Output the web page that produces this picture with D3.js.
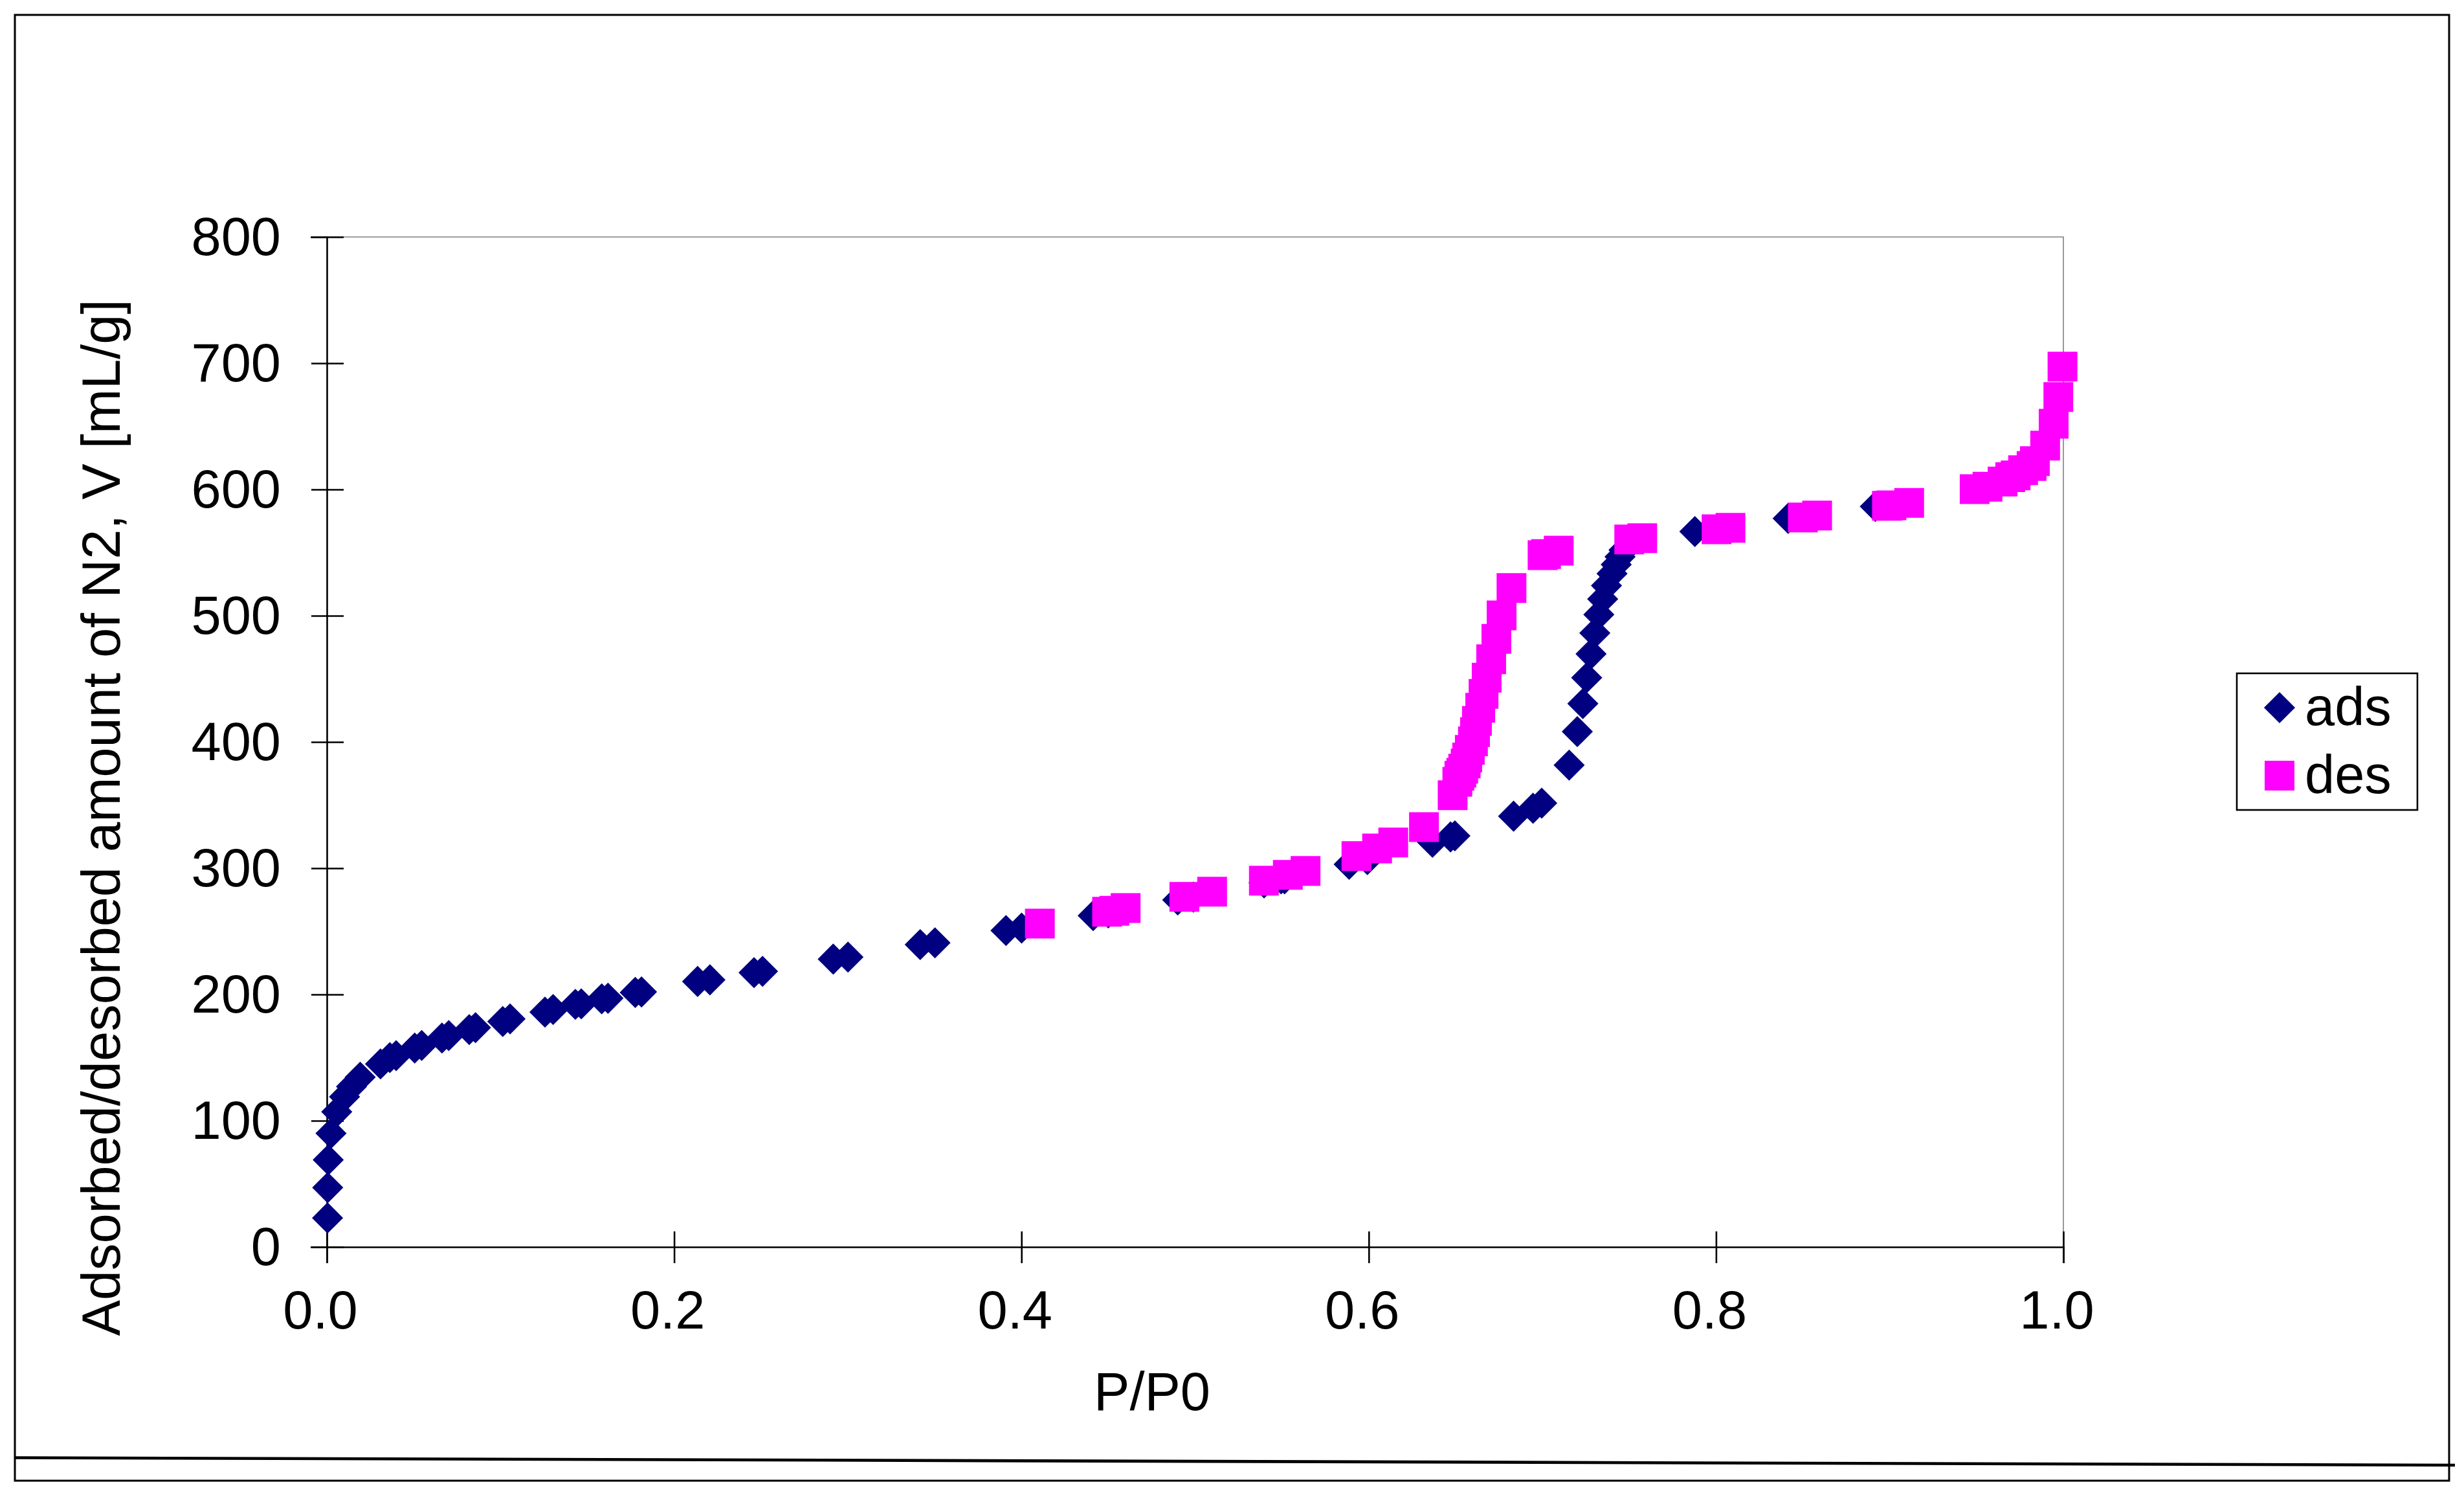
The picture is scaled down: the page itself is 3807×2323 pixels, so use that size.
<!DOCTYPE html>
<html>
<head>
<meta charset="utf-8">
<script src="https://cdn.jsdelivr.net/npm/d3@7"></script>
<style>
  html, body { margin: 0; padding: 0; background: #ffffff; }
  svg { display: block; }
  text { font-family: "Liberation Sans", Arial, sans-serif; fill: #000; }
</style>
</head>
<body>
<script>
// ---- data ----
const adsP = [0.0004,0.0005,0.0008,0.0024,0.0057,0.0102,0.0142,0.0192,0.0309,0.0363,0.0399,0.0506,0.0546,0.0663,0.0702,0.0820,0.0856,0.1013,0.1055,0.1256,0.1303,0.1431,0.1465,0.1583,0.1619,0.1776,0.1812,0.2135,0.2206,0.2460,0.2509,0.2916,0.3001,0.3417,0.3502,0.3911,0.4001,0.4413,0.4500,0.4900,0.4990,0.5397,0.5495,0.5515,0.5887,0.5992,0.6367,0.6471,0.6496,0.6834,0.6946,0.6996,0.7154,0.7201,0.7233,0.7255,0.7280,0.7302,0.7325,0.7347,0.7369,0.7401,0.7425,0.7447,0.7470,0.7878,0.8415,0.8917];
const adsV = [23,47,69,90,107,119,127,134.5,145,150,151.5,157.6,159.6,165.5,167.4,172.2,173.7,178.6,180.6,186.0,188.1,192.2,192.6,196.5,197,201.6,202,210.3,211.6,217.3,218.3,228.0,229.6,239.5,240.9,250.6,252.6,262.4,264.6,274.9,277.1,288.4,291.5,291.6,303.1,306.8,320.5,324.8,325.6,341.2,347.5,351.5,381.7,408.2,430.4,450.9,469.7,486.3,500.9,513.2,523.8,533.3,540.5,546.7,552,566.7,577.1,586.5];

const desP = [0.4106,0.4493,0.4535,0.4600,0.4938,0.5098,0.5396,0.5534,0.5636,0.5929,0.6048,0.6141,0.6318,0.6483,0.6510,0.6522,0.6533,0.6544,0.6558,0.6567,0.6582,0.6600,0.6612,0.6623,0.6642,0.6661,0.6679,0.6705,0.6735,0.6765,0.6822,0.7001,0.7021,0.7094,0.7500,0.7575,0.8003,0.8083,0.8500,0.8582,0.8984,0.9010,0.9112,0.9489,0.9563,0.9650,0.9694,0.9725,0.9768,0.9817,0.9836,0.9895,0.9944,0.9971,0.9995];
const desV = [256.2,265.5,266.3,268.4,277.3,281.4,290.1,294.7,297.8,309.6,315.7,320.4,332.6,357.8,368.4,373.2,375.7,378.8,382.9,387.7,393.7,400.5,407.8,416.7,427,438.1,450.9,465.5,481.7,500.2,521.9,548.0,548.9,551.6,560.4,561.4,568.5,569.6,577.8,579.3,587,587.5,589.4,600.2,602.2,606.3,609.7,611.1,615.2,618.6,622.4,634.7,652,673.2,697.3];

const xTicks = [0, 0.2, 0.4, 0.6, 0.8, 1.0];
const xTickLabels = ["0.0", "0.2", "0.4", "0.6", "0.8", "1.0"];
const yTicks = [0, 100, 200, 300, 400, 500, 600, 700, 800];
const yTickLabels = ["0", "100", "200", "300", "400", "500", "600", "700", "800"];

const seriesNames = ["ads", "des"];
const seriesColors = ["#000080", "#FF00FF"];
const xTitle = "P/P0";
const yTitle = "Adsorbed/desorbed amount of N2, V [mL/g]";

// ---- layout ----
const W = 3807, H = 2323;
const plotL = 505, plotR = 3188, plotT = 366, plotB = 1926;
const FS = 83;

const svg = d3.select("body").append("svg")
  .attr("width", W).attr("height", H)
  .attr("viewBox", `0 0 ${W} ${H}`);

svg.append("rect").attr("width", W).attr("height", H).attr("fill", "#fff");

// outer chart border
svg.append("rect")
  .attr("x", 23).attr("y", 23)
  .attr("width", 3784 - 23).attr("height", 2287 - 23)
  .attr("fill", "none").attr("stroke", "#000").attr("stroke-width", 3);

// stray slanted line near bottom
svg.append("line")
  .attr("x1", 23).attr("y1", 2251.5)
  .attr("x2", 3793).attr("y2", 2263)
  .attr("stroke", "#000").attr("stroke-width", 4.6);

const x = d3.scaleLinear().domain([0, 1]).range([plotL, plotR]);
const y = d3.scaleLinear().domain([0, 800]).range([plotB, plotT]);

// plot-area frame (top and right, gray)
svg.append("path")
  .attr("d", `M${plotL},${plotT}H${plotR}V${plotB}`)
  .attr("fill", "none").attr("stroke", "#808080").attr("stroke-width", 1.6);

// y axis
const yAxis = d3.axisLeft(y)
  .tickValues(yTicks)
  .tickFormat((d, i) => yTickLabels[i])
  .tickSizeOuter(0).tickSize(25).tickPadding(0);
const gy = svg.append("g").attr("transform", `translate(${plotL},0)`).call(yAxis);
gy.attr("font-family", null).attr("font-size", null);
gy.select(".domain").attr("stroke", "#000").attr("stroke-width", 2.6);
gy.selectAll(".tick line").attr("x1", -24).attr("x2", 26).attr("stroke", "#000").attr("stroke-width", 2.6);
gy.selectAll(".tick text")
  .attr("x", -71).attr("dy", null).attr("y", 27)
  .attr("text-anchor", "end")
  .style("font-family", '"Liberation Sans", Arial, sans-serif')
  .style("font-size", FS + "px").attr("fill", "#000");

// x axis
const xAxis = d3.axisBottom(x)
  .tickValues(xTicks)
  .tickFormat((d, i) => xTickLabels[i])
  .tickSizeOuter(0).tickSize(25).tickPadding(0);
const gx = svg.append("g").attr("transform", `translate(0,${plotB})`).call(xAxis);
gx.attr("font-family", null).attr("font-size", null);
gx.select(".domain").attr("stroke", "#000").attr("stroke-width", 2.6);
gx.selectAll(".tick line").attr("y1", -24).attr("y2", 25).attr("stroke", "#000").attr("stroke-width", 2.6);
gx.selectAll(".tick text")
  .attr("x", -10.5).attr("dy", null).attr("y", 126)
  .attr("text-anchor", "middle")
  .style("font-family", '"Liberation Sans", Arial, sans-serif')
  .style("font-size", FS + "px").attr("fill", "#000");

// axis titles
svg.append("text")
  .attr("x", 1780).attr("y", 2177.5)
  .attr("text-anchor", "middle")
  .style("font-size", FS + "px")
  .text(xTitle);

svg.append("text")
  .attr("transform", "translate(185,1263) rotate(-90)")
  .attr("text-anchor", "middle")
  .style("font-size", FS + "px")
  .text(yTitle);

// markers
const diamond = d3.symbol().type(d3.symbolSquare).size(34 * 34);
const square = d3.symbol().type(d3.symbolSquare).size(46 * 46);

const ads = adsP.map((p, i) => ({ p, v: adsV[i] }));
const des = desP.map((p, i) => ({ p, v: desV[i] }));

svg.append("g").selectAll("path").data(ads).join("path")
  .attr("d", diamond)
  .attr("transform", d => `translate(${x(d.p)},${y(d.v)}) rotate(45)`)
  .attr("fill", seriesColors[0]);

svg.append("g").selectAll("path").data(des).join("path")
  .attr("d", square)
  .attr("transform", d => `translate(${x(d.p)},${y(d.v)})`)
  .attr("fill", seriesColors[1]);

// legend
const lg = svg.append("g");
lg.append("rect")
  .attr("x", 3456).attr("y", 1040)
  .attr("width", 3735 - 3456).attr("height", 1251 - 1040)
  .attr("fill", "#fff").attr("stroke", "#000").attr("stroke-width", 2.6);
lg.append("path").attr("d", diamond)
  .attr("transform", "translate(3522,1093) rotate(45)")
  .attr("fill", seriesColors[0]);
lg.append("path").attr("d", square)
  .attr("transform", "translate(3522,1198)")
  .attr("fill", seriesColors[1]);
lg.append("text").attr("x", 3561).attr("y", 1120).style("font-size", FS + "px").text(seriesNames[0]);
lg.append("text").attr("x", 3561).attr("y", 1225).style("font-size", FS + "px").text(seriesNames[1]);
</script>
</body>
</html>
